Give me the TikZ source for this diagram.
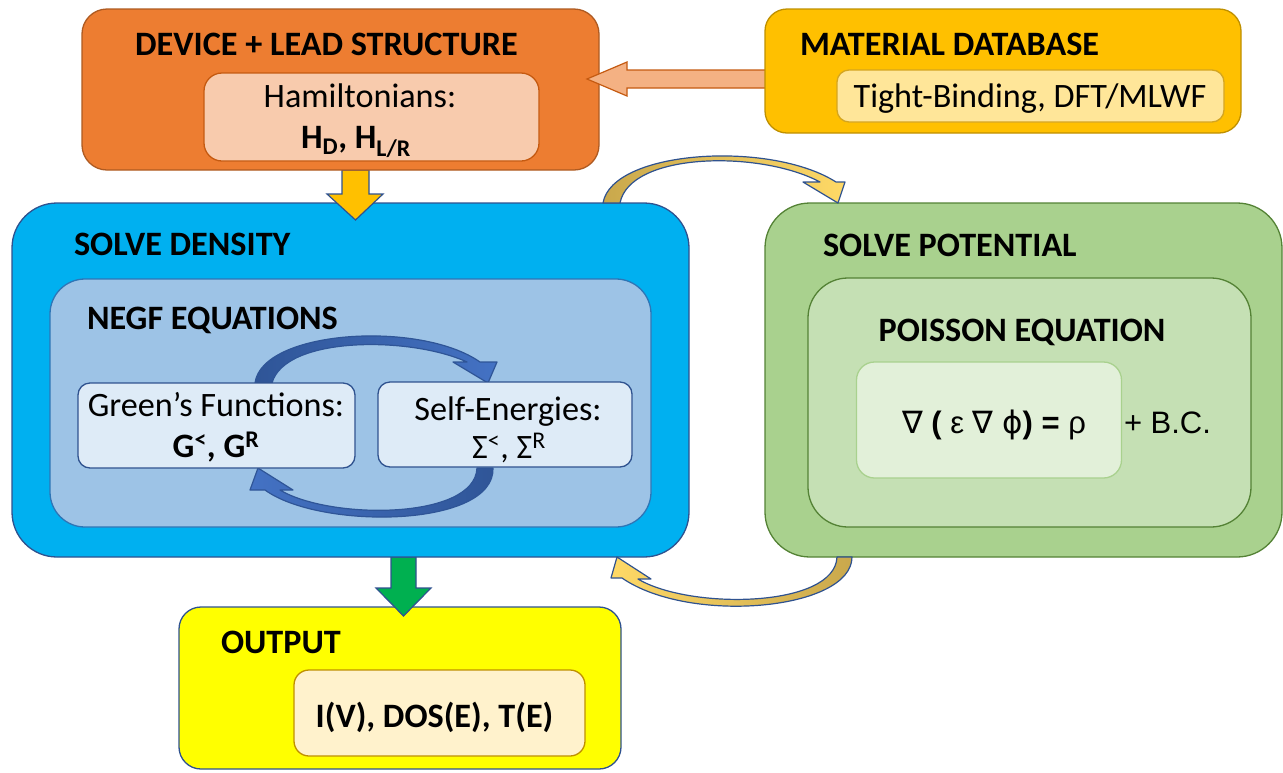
\documentclass[tikz,border=0pt]{standalone}
\usepackage{fontspec}
\setmainfont{Carlito}
\newfontfamily\eqfont{Liberation Sans}
\newfontfamily\symfont{DejaVu Sans}

\definecolor{devfill}{HTML}{ED7D31}
\definecolor{devline}{HTML}{AE5A21}
\definecolor{hamfill}{HTML}{F8CBAD}
\definecolor{hamline}{HTML}{C55A11}
\definecolor{matfill}{HTML}{FFC000}
\definecolor{matline}{HTML}{BF9000}
\definecolor{tbfill}{HTML}{FFE699}
\definecolor{tbline}{HTML}{D4A520}
\definecolor{salmon}{HTML}{F4B183}
\definecolor{navy}{HTML}{2F528F}
\definecolor{densfill}{HTML}{00B0F0}
\definecolor{negffill}{HTML}{9DC3E6}
\definecolor{negfline}{HTML}{2E75B6}
\definecolor{paleblue}{HTML}{DEEBF7}
\definecolor{potfill}{HTML}{A9D18E}
\definecolor{potline}{HTML}{548235}
\definecolor{poifill}{HTML}{C5E0B4}
\definecolor{eqfill}{HTML}{E2F0D9}
\definecolor{outfill}{HTML}{FFFF00}
\definecolor{resfill}{HTML}{FFF2CC}
\definecolor{greenarrow}{HTML}{00B050}
\definecolor{golddark}{HTML}{C9A84C}
\definecolor{goldlight}{HTML}{FFD966}
\definecolor{bluedark}{HTML}{2F5597}
\definecolor{bluelight}{HTML}{4472C4}

\begin{document}
\begin{tikzpicture}[x=1pt,y=-1pt,
  box/.style={rectangle, rounded corners=#1, line width=1.3pt, inner sep=0pt, outer sep=0pt},
  txt/.style={inner sep=0pt, outer sep=0pt, font=\fontsize{34.2}{41}\selectfont},
  ttl/.style={inner sep=0pt, outer sep=0pt, font=\fontsize{34.2}{41}\selectfont\bfseries},
  eqtxt/.style={inner sep=0pt, outer sep=0pt, font=\fontsize{31}{37}\selectfont\eqfont},
  blockarrow/.style={draw=navy, line width=1.2pt, line join=miter},
  curvearrow/.style={draw=navy, line width=1.2pt, line join=round}]

\useasboundingbox (0,0) rectangle (1283,772);

% ---------- output block ----------
\node[box=22pt, fill=outfill, draw=navy, minimum width=442pt, minimum height=162pt] (out) at (400,688) {};
\node[box=15pt, fill=resfill, draw=matline, minimum width=291pt, minimum height=86pt] (res) at (439.5,713) {};
\node[ttl, anchor=base west] (outT) at (221,653) {OUTPUT};
\node[ttl, anchor=base] (resT) at (434.5,727) {I(V), DOS(E), T(E)};

% green block arrow from density to output
\draw[blockarrow, fill=greenarrow] (391,557) -- (416,557) -- (416,588) -- (431,588) -- (403.5,616) -- (376,588) -- (391,588) -- cycle;

% ---------- density block ----------
\node[box=45pt, fill=densfill, draw=navy, minimum width=677pt, minimum height=354pt] (dens) at (350.5,380) {};
\node[ttl, anchor=base west] (densT) at (74,255) {SOLVE DENSITY};
\node[box=35pt, fill=negffill, draw=negfline, minimum width=601pt, minimum height=248pt] (negf) at (350.5,403) {};
\node[ttl, anchor=base west] (negfT) at (87,329) {NEGF EQUATIONS};

% NEGF self-consistency loop
\path[curvearrow, draw=bluedark, left color=bluedark, right color=bluelight]
  (255,383) .. controls (262,330) and (420,320) .. (480,362)
  -- (497,362) -- (488,383) -- (453,362) -- (467,362)
  .. controls (410,336) and (285,336) .. (272,383) -- cycle;
\path[curvearrow, draw=bluedark, left color=bluelight, right color=bluedark]
  (493,468) .. controls (495,528) and (320,530) .. (265,490)
  -- (250,490) -- (258,468) -- (293,490) -- (280,490)
  .. controls (330,520) and (475,520) .. (477,468) -- cycle;

\node[box=12pt, fill=paleblue, draw=navy, minimum width=277pt, minimum height=85pt] (gf) at (216.5,425.5) {};
\node[box=12pt, fill=paleblue, draw=navy, minimum width=254pt, minimum height=85pt] (se) at (505,424.5) {};
\node[txt, anchor=base] (gfA) at (216,416) {Green’s Functions:};
\node[txt, anchor=base] (gfB) at (216,457) {\bfseries G\textsuperscript{<}, G\textsuperscript{R}};
\node[txt, anchor=base] (seA) at (508,420) {Self-Energies:};
\node[txt, anchor=base] (seB) at (509,458) {Σ\textsuperscript{<}, Σ\textsuperscript{R}};

% yellow block arrow from device structure to density
\draw[blockarrow, fill=matfill] (342,170) -- (369,170) -- (369,194) -- (383,194) -- (355.5,220) -- (327,194) -- (342,194) -- cycle;

% ---------- device + lead block ----------
\node[box=25pt, fill=devfill, draw=devline, minimum width=517pt, minimum height=161pt] (dev) at (340.5,89.5) {};
\node[ttl, anchor=base] (devT) at (326.5,55) {DEVICE + LEAD STRUCTURE};
\node[box=18pt, fill=hamfill, draw=hamline, minimum width=335pt, minimum height=88pt] (ham) at (371.5,117) {};
\node[txt, anchor=base] (hamA) at (360,107) {Hamiltonians:};
\node[txt, anchor=base] (hamB) at (356,148) {\bfseries H\textsubscript{D}, H\textsubscript{L/R}};

% salmon block arrow from material database to device
\draw[blockarrow, draw=hamline, fill=salmon] (767,70) -- (627,70) -- (627,62) -- (587,79) -- (627,96) -- (627,88) -- (767,88);

% ---------- material database ----------
\node[box=22pt, fill=matfill, draw=matline, minimum width=476pt, minimum height=124pt] (mat) at (1003,71) {};
\node[ttl, anchor=base west] (matT) at (800,55) {MATERIAL DATABASE};
\node[box=12pt, fill=tbfill, draw=tbline, minimum width=387pt, minimum height=52pt] (tb) at (1030.5,96) {};
\node[txt, anchor=base] (tbT) at (1030,107) {Tight-Binding, DFT/MLWF};

% ---------- potential block ----------
\node[box=45pt, fill=potfill, draw=potline, minimum width=517pt, minimum height=354pt] (pot) at (1023.5,380) {};
\node[ttl, anchor=base west] (potT) at (823,256) {SOLVE POTENTIAL};
\node[box=40pt, fill=poifill, draw=potline, minimum width=443pt, minimum height=249pt] (poi) at (1029.5,402.5) {};
\node[ttl, anchor=base] (poiT) at (1022,341) {POISSON EQUATION};
\node[box=18pt, fill=eqfill, draw=potfill, minimum width=265pt, minimum height=116pt] (eq) at (989,420) {};
\node[eqtxt, anchor=base] (eqT) at (994,433) {{\symfont ∇} {\bfseries(} ε {\symfont ∇} {\symfont ϕ}{\bfseries)} {\bfseries=} ρ};
\node[eqtxt, anchor=base west] (bcT) at (1124,433) {+ B.C.};

% outer self-consistency loop between density and potential
\path[curvearrow, left color=golddark, right color=goldlight]
  (603,203) .. controls (612,150) and (770,140) .. (836,182)
  -- (845,182) -- (838,203) -- (803,182) -- (820,182)
  .. controls (760,150) and (630,152) .. (620,203) -- cycle;
\path[curvearrow, left color=goldlight, right color=golddark]
  (852,557) .. controls (852,610) and (690,625) .. (622,578)
  -- (611,578) -- (617,557) -- (651,579) -- (638,579)
  .. controls (690,610) and (835,608) .. (837,557) -- cycle;

\end{tikzpicture}
\end{document}
